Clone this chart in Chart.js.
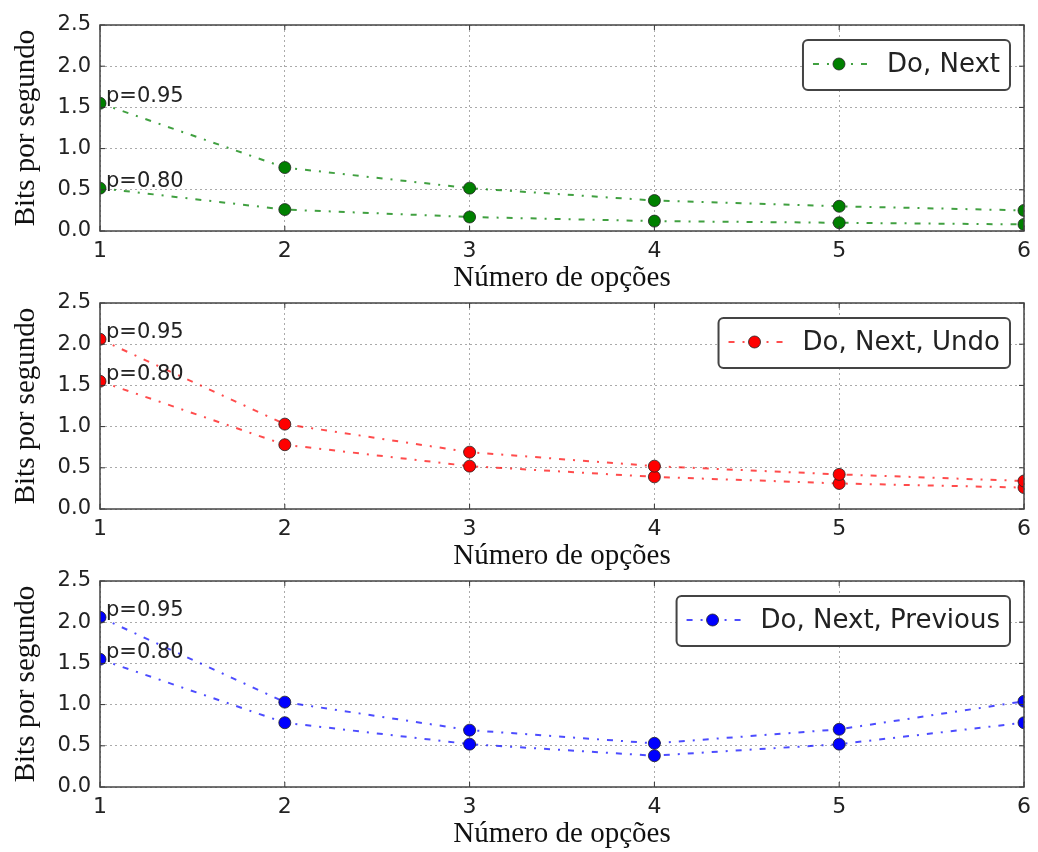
<!DOCTYPE html>
<html>
<head>
<meta charset="utf-8">
<script src="https://cdn.jsdelivr.net/npm/chart.js@4.4.1/dist/chart.umd.min.js"></script>
<style>
  body { margin: 0; background: #fff; }
  #wrap { position: relative; width: 1038px; height: 852px; overflow: hidden; }
  canvas { position: absolute; left: 0; }
</style>
</head>
<body>
<div id="wrap">
  <canvas id="c1" width="1038" height="296" style="top:0px"></canvas>
  <canvas id="c2" width="1038" height="296" style="top:278px"></canvas>
  <canvas id="c3" width="1038" height="296" style="top:556px"></canvas>
</div>
<script>
// data
const opcoes = [1, 2, 3, 4, 5, 6];
const yTicks = [0, 0.5, 1.0, 1.5, 2.0, 2.5];
const nextP95 = [1.55, 0.77, 0.52, 0.37, 0.30, 0.25];
const nextP80 = [0.52, 0.26, 0.17, 0.12, 0.10, 0.08];
const undoP95 = [2.06, 1.03, 0.69, 0.52, 0.42, 0.34];
const undoP80 = [1.55, 0.78, 0.52, 0.39, 0.31, 0.26];
const prevP95 = [2.06, 1.03, 0.69, 0.53, 0.70, 1.04];
const prevP80 = [1.55, 0.78, 0.52, 0.38, 0.52, 0.78];
const annotLabels = ['p=0.95', 'p=0.80'];
const legendLabels = ['Do, Next', 'Do, Next, Undo', 'Do, Next, Previous'];

const SANS = '"DejaVu Sans", sans-serif';
const SERIF = '"Liberation Serif", "DejaVu Serif", serif';
const DASH = [6, 8, 2, 8];

// frame, inward ticks, p= labels and the boxed legend
const extras = {
  id: 'extras',
  afterDraw(chart, args, opts) {
    const { ctx, chartArea: a, scales: { x, y } } = chart;
    ctx.save();
    const seg = (x1, y1, x2, y2) => { ctx.beginPath(); ctx.moveTo(x1, y1); ctx.lineTo(x2, y2); ctx.stroke(); };

    ctx.strokeStyle = '#333';
    ctx.lineWidth = 1;
    x.ticks.forEach(t => {
      const px = x.getPixelForValue(t.value);
      seg(px, a.bottom, px, a.bottom - 5);
      seg(px, a.top, px, a.top + 5);
    });
    y.ticks.forEach(t => {
      const py = y.getPixelForValue(t.value);
      seg(a.left, py, a.left + 5, py);
      seg(a.right, py, a.right - 5, py);
    });

    ctx.strokeStyle = '#444';
    ctx.lineWidth = 1.5;
    ctx.strokeRect(a.left, a.top, a.right - a.left, a.bottom - a.top);

    // p= annotations next to the first point
    ctx.font = '21px ' + SANS;
    ctx.fillStyle = '#222';
    ctx.textBaseline = 'alphabetic';
    chart.data.datasets.forEach((ds, i) => {
      const p = ds.data[0];
      ctx.fillText(annotLabels[i], x.getPixelForValue(p.x) + 6, y.getPixelForValue(p.y) - 1);
    });

    // legend box
    const ds = chart.data.datasets[0];
    ctx.font = '26px ' + SANS;
    const tw = ctx.measureText(opts.label).width;
    const w = 84 + tw + 10, h = 50;
    const bx = a.right - 14 - w, by = a.top + 15;
    ctx.fillStyle = '#fff';
    ctx.strokeStyle = '#444';
    ctx.lineWidth = 2;
    ctx.beginPath();
    ctx.roundRect(bx, by, w, h, 5);
    ctx.fill();
    ctx.stroke();
    const cy = by + h / 2 - 1;
    ctx.strokeStyle = ds.borderColor;
    ctx.lineWidth = ds.borderWidth;
    ctx.setLineDash(DASH);
    seg(bx + 10, cy, bx + 64, cy);
    ctx.setLineDash([]);
    ctx.fillStyle = ds.pointBackgroundColor;
    ctx.strokeStyle = '#222';
    ctx.lineWidth = 0.8;
    ctx.beginPath();
    ctx.arc(bx + 36, cy, 6, 0, Math.PI * 2);
    ctx.fill();
    ctx.stroke();
    ctx.fillStyle = '#222';
    ctx.textBaseline = 'middle';
    ctx.fillText(opts.label, bx + 84, cy + 1);
    ctx.restore();
  }
};

function makeSeries(values, line, fill) {
  return {
    data: opcoes.map((o, i) => ({ x: o, y: values[i] })),
    borderColor: line,
    borderWidth: 2,
    borderDash: DASH,
    pointRadius: 6,
    pointBackgroundColor: fill,
    pointBorderColor: '#222',
    pointBorderWidth: 0.8,
    clip: 0,
    tension: 0
  };
}

function makeChart(id, hi, lo, line, fill, label) {
  new Chart(document.getElementById(id), {
    type: 'line',
    data: { datasets: [makeSeries(hi, line, fill), makeSeries(lo, line, fill)] },
    options: {
      responsive: false,
      animation: false,
      devicePixelRatio: 1,
      layout: { padding: { left: 0, right: 11, top: 25, bottom: 0 } },
      plugins: { legend: { display: false }, tooltip: { enabled: false }, extras: { label: label } },
      scales: {
        x: {
          type: 'linear',
          min: 1, max: 6,
          afterBuildTicks: s => { s.ticks = opcoes.map(v => ({ value: v })); },
          afterFit: s => { s.height = 65; },
          grid: { color: '#aaa', lineWidth: 1, drawTicks: false },
          border: { display: false, dash: [2, 3] },
          ticks: { padding: 7, color: '#222', font: { family: SANS, size: 22 }, callback: v => String(v), maxRotation: 0 },
          title: { display: true, text: 'Número de opções', color: '#111', font: { family: SERIF, size: 29 }, padding: { top: 1, bottom: 0 } }
        },
        y: {
          min: 0, max: 2.5,
          afterBuildTicks: s => { s.ticks = yTicks.map(v => ({ value: v })); },
          afterFit: s => { s.width = 100; },
          grid: { color: '#aaa', lineWidth: 1, drawTicks: false },
          border: { display: false, dash: [2, 3] },
          ticks: { padding: 9, color: '#222', font: { family: SANS, size: 21 }, callback: v => v.toFixed(1) },
          title: { display: true, text: 'Bits por segundo', color: '#111', font: { family: SERIF, size: 29 }, padding: { top: 9, bottom: 0 } }
        }
      }
    },
    plugins: [extras]
  });
}

makeChart('c1', nextP95, nextP80, 'rgba(0,128,0,0.75)', '#008000', legendLabels[0]);
makeChart('c2', undoP95, undoP80, 'rgba(255,0,0,0.7)', '#ff0000', legendLabels[1]);
makeChart('c3', prevP95, prevP80, 'rgba(0,0,255,0.7)', '#0000ff', legendLabels[2]);
</script>
</body>
</html>
